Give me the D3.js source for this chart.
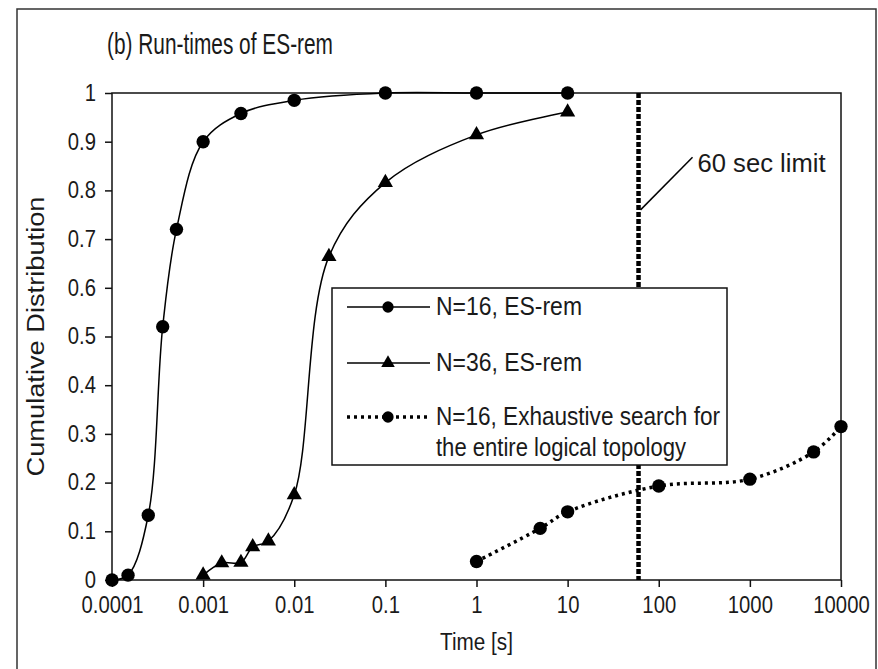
<!DOCTYPE html>
<html>
<head>
<meta charset="utf-8">
<script src="https://cdn.jsdelivr.net/npm/d3@7"></script>
<style>
  html, body { margin: 0; padding: 0; background: #fff; }
  svg { display: block; }
  text { font-family: 'Liberation Sans', Arial, sans-serif; fill: #1a1a1a; }
</style>
</head>
<body>
<div id="chart"><svg width="878" height="669"></svg></div>
<script>
// N=16, ES-rem
const n16Time = [0.0001, 0.00015, 0.00025, 0.00036, 0.00051, 0.001, 0.0026, 0.01, 0.1, 1, 10];
const n16Cdf = [0, 0.01, 0.133, 0.52, 0.72, 0.9, 0.958, 0.985, 1, 1, 1];
// N=36, ES-rem
const n36Time = [0.001, 0.0016, 0.0026, 0.0035, 0.0052, 0.01, 0.024, 0.1, 1, 10];
const n36Cdf = [0.01, 0.035, 0.036, 0.068, 0.08, 0.175, 0.664, 0.816, 0.914, 0.961];
// N=16, exhaustive search
const exhTime = [1, 5, 10, 100, 1000, 5000, 10000];
const exhCdf = [0.038, 0.106, 0.14, 0.193, 0.207, 0.263, 0.315];

const xTicks = [0.0001, 0.001, 0.01, 0.1, 1, 10, 100, 1000, 10000];
const xTickLabels = ['0.0001', '0.001', '0.01', '0.1', '1', '10', '100', '1000', '10000'];
const yTicks = [0, 0.1, 0.2, 0.3, 0.4, 0.5, 0.6, 0.7, 0.8, 0.9, 1];
const yTickLabels = ['0', '0.1', '0.2', '0.3', '0.4', '0.5', '0.6', '0.7', '0.8', '0.9', '1'];
const limitSec = 60;

const SVG = d3.select('#chart svg');
const LEFT = 112, RIGHT = 841, TOP = 93, BOTTOM = 580;

// the scan's font is narrower than Liberation Sans, squeeze it a bit
function condense(sel, factor) {
  sel.each((d, i, n) => {
    const w = n[i].getComputedTextLength();
    d3.select(n[i])
      .attr('textLength', w * factor)
      .attr('lengthAdjust', 'spacingAndGlyphs');
  });
}

const X_SCALE = d3.scaleLog().domain([0.0001, 10000]).range([LEFT, RIGHT]);
const Y_SCALE = d3.scaleLinear().domain([0, 1]).range([BOTTOM, TOP]);

// outer frame
SVG.append('rect')
  .attr('x', 17).attr('y', 9)
  .attr('width', 859).attr('height', 700)
  .style('fill', 'none').style('stroke', '#333').style('stroke-width', 1.5);

// title
SVG.append('text')
  .attr('x', 107).attr('y', 54)
  .attr('textLength', 226).attr('lengthAdjust', 'spacingAndGlyphs')
  .style('font-size', '29px')
  .text('(b) Run-times of ES-rem');

// plot frame
SVG.append('rect')
  .attr('x', LEFT).attr('y', TOP)
  .attr('width', RIGHT - LEFT).attr('height', BOTTOM - TOP)
  .style('fill', 'none').style('stroke', '#111').style('stroke-width', 1.5);

// axes
const Y_AXIS = d3.axisLeft(Y_SCALE)
  .tickValues(yTicks)
  .tickSize(7)
  .tickPadding(9)
  .tickFormat((d, i) => yTickLabels[i]);
const Y_AXIS_G = SVG.append('g').attr('id', 'yAxis')
  .attr('transform', `translate(${LEFT}, 0)`);
Y_AXIS(Y_AXIS_G);

const X_AXIS = d3.axisBottom(X_SCALE)
  .tickValues(xTicks)
  .tickSize(7)
  .tickPadding(10)
  .tickFormat((d, i) => xTickLabels[i]);
const X_AXIS_G = SVG.append('g').attr('id', 'xAxis')
  .attr('transform', `translate(0, ${BOTTOM})`);
X_AXIS(X_AXIS_G);

SVG.selectAll('#xAxis, #yAxis').each((d, i, n) => {
  const g = d3.select(n[i]);
  g.select('.domain').remove();
  g.selectAll('line').style('stroke', '#111').style('stroke-width', 1.5);
  g.selectAll('text')
    .style('font-size', '23px')
    .style('font-family', "'Liberation Sans', Arial, sans-serif")
    .style('fill', '#1a1a1a')
    .call(condense, 0.88);
});

// axis titles
SVG.append('text')
  .attr('x', (LEFT + RIGHT) / 2).attr('y', 650)
  .attr('text-anchor', 'middle')
  .style('font-size', '23px')
  .text('Time [s]')
  .call(condense, 0.9);

SVG.append('text')
  .attr('transform', `translate(44, ${(TOP + BOTTOM) / 2}) rotate(-90)`)
  .attr('text-anchor', 'middle')
  .attr('textLength', 280).attr('lengthAdjust', 'spacingAndGlyphs')
  .style('font-size', '23px')
  .text('Cumulative Distribution');

// 60 sec limit
SVG.append('line')
  .attr('x1', X_SCALE(limitSec)).attr('x2', X_SCALE(limitSec))
  .attr('y1', Y_SCALE(1)).attr('y2', Y_SCALE(0))
  .style('stroke', '#000').style('stroke-width', 4.5)
  .style('stroke-dasharray', '5,2');

SVG.append('line')
  .attr('x1', X_SCALE(limitSec) + 2).attr('y1', Y_SCALE(0.76))
  .attr('x2', X_SCALE(limitSec) + 54).attr('y2', Y_SCALE(0.868))
  .style('stroke', '#000').style('stroke-width', 1.5);

SVG.append('text')
  .attr('x', X_SCALE(limitSec) + 59).attr('y', Y_SCALE(0.838))
  .attr('textLength', 128).attr('lengthAdjust', 'spacingAndGlyphs')
  .style('font-size', '25px')
  .text('60 sec limit');

// series
const line = d3.line()
  .x((d) => X_SCALE(d[0]))
  .y((d) => Y_SCALE(d[1]))
  .curve(d3.curveCatmullRom.alpha(0.5));

const series = [
  { t: n16Time, v: n16Cdf, symbol: d3.symbolCircle, dash: null, width: 1.5 },
  { t: n36Time, v: n36Cdf, symbol: d3.symbolTriangle, dash: null, width: 1.5 },
  { t: exhTime, v: exhCdf, symbol: d3.symbolCircle, dash: '3,4', width: 3.5 },
];

const CHART = SVG.append('g').attr('id', 'plot');
series.forEach((s) => {
  const pts = s.t.map((t, i) => [t, s.v[i]]);
  CHART.append('path')
    .attr('d', line(pts))
    .style('fill', 'none')
    .style('stroke', '#000')
    .style('stroke-width', s.width)
    .style('stroke-dasharray', s.dash);
  CHART.append('g')
    .selectAll('path')
    .data(pts)
    .join('path')
    .attr('transform', (d) => `translate(${X_SCALE(d[0])}, ${Y_SCALE(d[1])})`)
    .attr('d', d3.symbol().type(s.symbol).size(s.symbol === d3.symbolCircle ? 140 : 100))
    .style('fill', '#000');
});

// legend
const LEGEND = SVG.append('g').attr('id', 'legend');
LEGEND.append('rect')
  .attr('x', 332).attr('y', 288)
  .attr('width', 395).attr('height', 177)
  .style('fill', '#fff').style('stroke', '#111').style('stroke-width', 1.5);

const legendRows = [
  { y: 307, lines: ['N=16, ES-rem'], s: series[0] },
  { y: 363, lines: ['N=36, ES-rem'], s: series[1] },
  { y: 417, lines: ['N=16, Exhaustive search for', 'the entire logical topology'], s: series[2] },
];
const legendWidths = [146, 146, 284, 250];
let k = 0;
legendRows.forEach((row) => {
  LEGEND.append('line')
    .attr('x1', 347).attr('x2', 430)
    .attr('y1', row.y).attr('y2', row.y)
    .style('stroke', '#000')
    .style('stroke-width', row.s.width)
    .style('stroke-dasharray', row.s.dash);
  LEGEND.append('path')
    .attr('transform', `translate(388, ${row.y})`)
    .attr('d', d3.symbol().type(row.s.symbol).size(row.s.symbol === d3.symbolCircle ? 100 : 80))
    .style('fill', '#000');
  row.lines.forEach((txt, j) => {
    LEGEND.append('text')
      .attr('x', 436).attr('y', row.y + 8 + j * 31)
      .attr('textLength', legendWidths[k++]).attr('lengthAdjust', 'spacingAndGlyphs')
      .style('font-size', '25px')
      .text(txt);
  });
});
</script>
</body>
</html>
